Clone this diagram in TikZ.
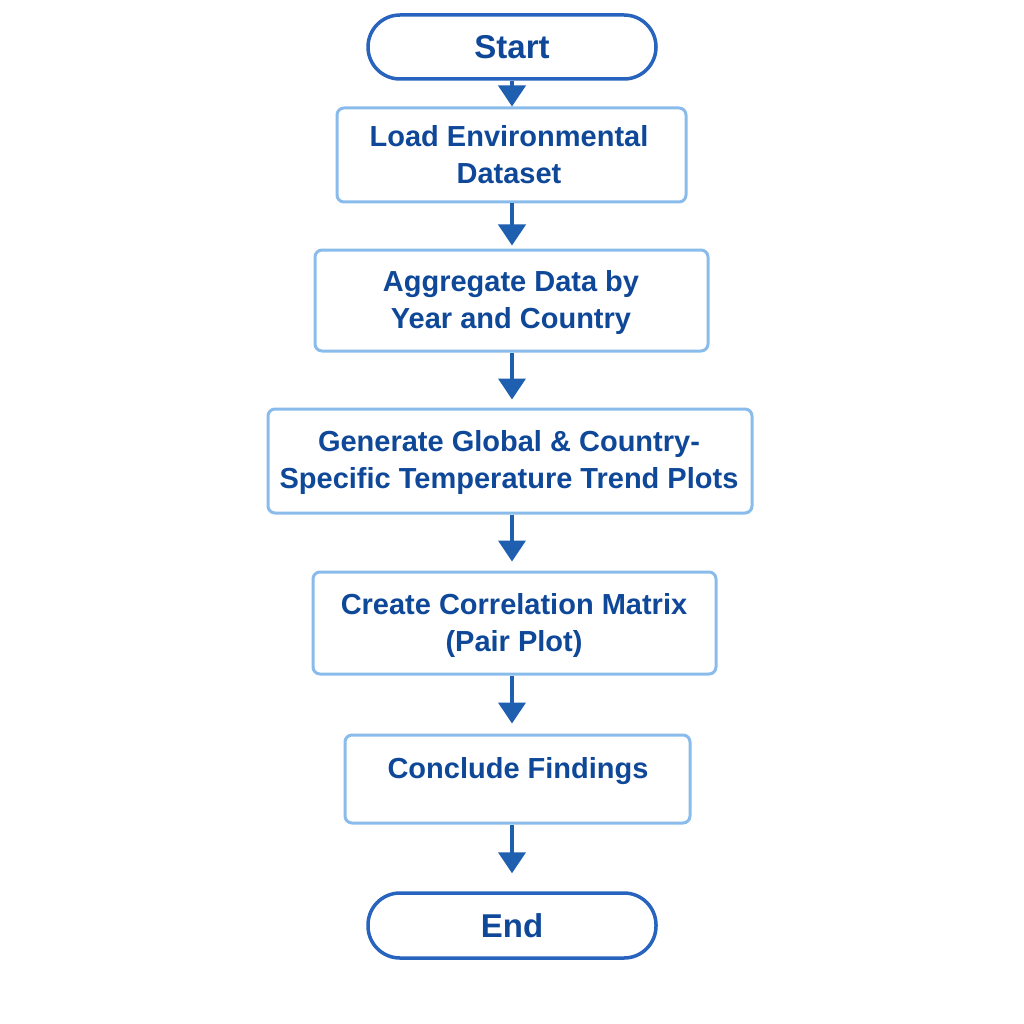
\documentclass[tikz,border=0pt]{standalone}
\usepackage{fontspec}
\setmainfont{Liberation Sans}
\usetikzlibrary{arrows.meta}
\definecolor{boxline}{RGB}{138,188,235}
\definecolor{termline}{RGB}{40,100,190}
\definecolor{txtblue}{RGB}{15,72,152}
\definecolor{arrblue}{RGB}{30,95,175}
\begin{document}
\begin{tikzpicture}[x=1pt,y=-1pt,
  procbox/.style={draw=boxline,line width=3pt,rounded corners=7pt,fill=white,inner sep=0pt},
  termbox/.style={draw=termline,line width=3.5pt,rounded corners=32pt,fill=white,inner sep=0pt},
  lbl/.style={text=txtblue,font=\fontsize{29}{37}\selectfont\bfseries,align=center,inner sep=0pt},
  termlbl/.style={text=txtblue,font=\fontsize{33}{38}\selectfont\bfseries,inner sep=0pt},
  flow/.style={draw=arrblue,line width=4pt,-{Triangle[width=27pt,length=21pt]}}]
\useasboundingbox (0,0) rectangle (1024,1024);
\fill[white] (0,0) rectangle (1024,1024);
% boxes
\node[termbox,minimum width=288pt,minimum height=64pt] (start) at (512,47) {};
\node[procbox,minimum width=349pt,minimum height=94pt] (load) at (511.5,155) {};
\node[procbox,minimum width=393pt,minimum height=101pt] (agg) at (511.5,300.5) {};
\node[procbox,minimum width=484pt,minimum height=104pt] (gen) at (510,461) {};
\node[procbox,minimum width=403pt,minimum height=102pt] (corr) at (514.5,623) {};
\node[procbox,minimum width=345pt,minimum height=88pt] (concl) at (517.5,779) {};
\node[termbox,minimum width=288pt,minimum height=65pt] (end) at (512,925.5) {};
% texts
\node[termlbl] (tstart) at (512,47) {Start};
\node[lbl] (tload) at (509,155) {Load Environmental\\Dataset};
\node[lbl] (tagg) at (511,303) {Aggregate Data by\\Year and Country};
\node[lbl] (tgen) at (509,462) {Generate Global \& Country-\\Specific Temperature Trend Plots};
\node[lbl] (tcorr) at (514,625) {Create Correlation Matrix\\(Pair Plot)};
\node[lbl] (tconcl) at (518,771) {Conclude Findings};
\node[termlbl] (tend) at (512,926) {End};
% arrows
\draw[flow] (start.south) -- (load.north-|start.south);
\draw[flow,shorten >=3pt] (load.south-|start.south) -- (agg.north-|start.south);
\draw[flow,shorten >=8pt] (agg.south-|start.south) -- (gen.north-|start.south);
\draw[flow,shorten >=9pt] (gen.south-|start.south) -- (corr.north-|start.south);
\draw[flow,shorten >=10pt] (corr.south-|start.south) -- (concl.north-|start.south);
\draw[flow,shorten >=18pt] (concl.south-|start.south) -- (end.north);
\end{tikzpicture}
\end{document}
